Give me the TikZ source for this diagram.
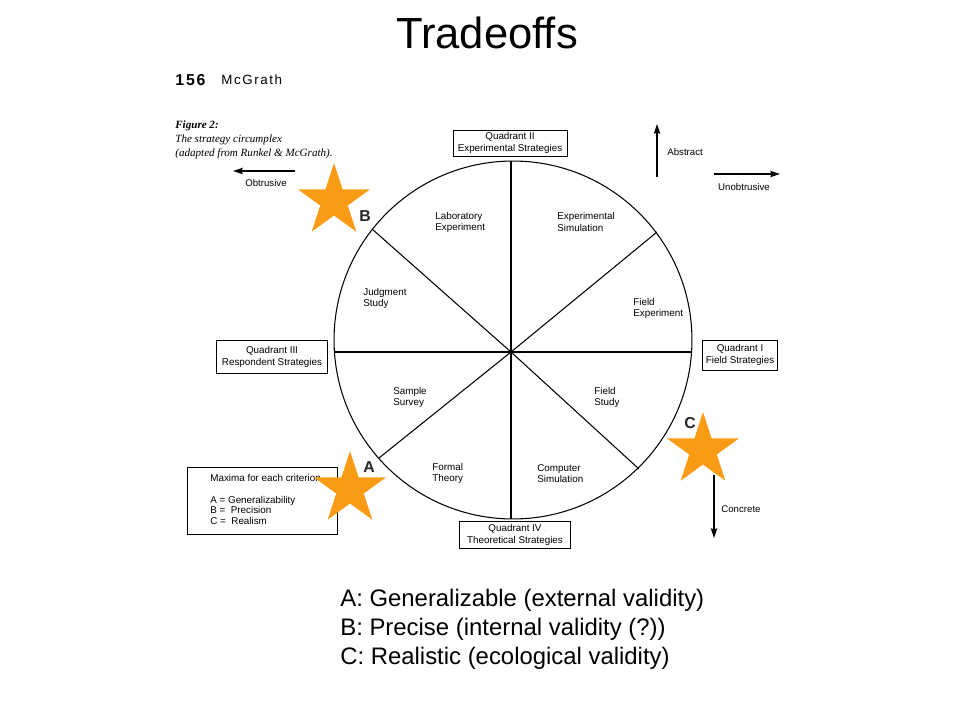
\documentclass[tikz,border=0pt]{standalone}
\usepackage{fontspec}
\setmainfont{Liberation Sans}
\newfontfamily\capfont{Liberation Serif}
\newfontfamily\widefont[LetterSpace=12]{Liberation Sans}
\usepackage{xcolor}
\usepackage{tikz}
\usetikzlibrary{shapes,arrows,arrows.meta,positioning}
\definecolor{starorange}{RGB}{250,155,22}

\begin{document}
\begin{tikzpicture}[x=0.02cm, y=-0.02cm]
    \tikzstyle{sector} = [font=\fontsize{5.6}{6.3}\selectfont, align=left, anchor=west, inner sep=0]
    \tikzstyle{quad} = [draw=black, line width=0.5pt, font=\fontsize{5.6}{6.8}\selectfont, align=center, inner sep=0]
    \tikzstyle{side} = [font=\fontsize{5.5}{6.5}\selectfont, inner sep=0]
    \tikzstyle{starmark} = [star, star points=5, star point ratio=2.618, minimum size=1.52cm, inner sep=0, fill=starorange]
    \tikzstyle{letter} = [font=\fontsize{9}{9}\selectfont\bfseries, text=black!85, inner sep=0]
    \tikzstyle{arrow} = [-{Stealth[length=5.5pt,width=3.6pt,inset=0.6pt]}, line width=0.6pt]
    \useasboundingbox (0,0) rectangle (960,720);

    % title and page header
    \node [font=\fontsize{24.8}{27}\selectfont] (title) at (487,33) {Tradeoffs};
    \node [anchor=west, inner sep=0, font=\fontsize{9}{9}\selectfont\bfseries\widefont] (page) at (175,80) {156};
    \node [anchor=west, inner sep=0, font=\fontsize{7.6}{8}\selectfont\widefont] (author) at (221,80) {McGrath};
    \node [anchor=west, align=left, inner sep=0, font=\fontsize{6.3}{8}\selectfont\capfont\itshape] (caption) at (175,140)
        {\textbf{Figure 2:}\\The strategy circumplex\\(adapted from Runkel \& McGrath).};

    % circle and spokes
    \coordinate (hub) at (511,352);
    \coordinate (top) at (511,161);
    \coordinate (bottom) at (511,519);
    \coordinate (left) at (334,352);
    \coordinate (right) at (692,352);
    \coordinate (nw) at (372,229);
    \coordinate (ne) at (657,232);
    \coordinate (sw) at (379,458);
    \coordinate (se) at (639,469);
    \draw [line width=0.6pt] (513,340) circle [radius=3.58cm];
    \foreach \p in {top,bottom,left,right,nw,ne,sw,se}
        \draw [line width=0.6pt] (hub) -- (\p);

    % sectors
    \node [sector] (lab) at (435,222) {Laboratory\\Experiment};
    \node [sector] (expsim) at (557,222) {Experimental\\Simulation};
    \node [sector] (judg) at (363,298) {Judgment\\Study};
    \node [sector] (fexp) at (633,308) {Field\\Experiment};
    \node [sector] (survey) at (393,397) {Sample\\Survey};
    \node [sector] (fstudy) at (594,397) {Field\\Study};
    \node [sector] (formal) at (432,473) {Formal\\Theory};
    \node [sector] (compsim) at (537,474) {Computer\\Simulation};

    % quadrants
    \node [quad, minimum width=2.28cm, minimum height=0.52cm] (q2) at (510,143) {Quadrant II\\Experimental Strategies};
    \node [quad, minimum width=1.5cm, minimum height=0.6cm] (q1) at (740,355) {Quadrant I\\Field Strategies};
    \node [quad, minimum width=2.22cm, minimum height=0.66cm] (q3) at (272,357) {Quadrant III\\Respondent Strategies};
    \node [quad, minimum width=2.22cm, minimum height=0.54cm] (q4) at (515,535) {Quadrant IV\\Theoretical Strategies};

    % directions
    \coordinate (obtA) at (295,171);
    \coordinate (obtB) at (233,171);
    \coordinate (absA) at (657,177);
    \coordinate (absB) at (657,124);
    \coordinate (unoA) at (714,174);
    \coordinate (unoB) at (780,174);
    \coordinate (conA) at (714,475);
    \coordinate (conB) at (714,538);
    \draw [arrow] (obtA) -- (obtB);
    \draw [arrow] (absA) -- (absB);
    \draw [arrow] (unoA) -- (unoB);
    \draw [arrow] (conA) -- (conB);
    \node [side] (obt) at (266,183) {Obtrusive};
    \node [side, anchor=west] (abs) at (667,152) {Abstract};
    \node [side] (uno) at (744,187) {Unobtrusive};
    \node [side, anchor=west] (con) at (721,509) {Concrete};

    % legend
    \node [draw=black, line width=0.5pt, minimum width=3cm, minimum height=1.34cm, inner sep=0] (legend) at (262,501) {};
    \node [anchor=north west, align=left, inner sep=0, font=\fontsize{5.6}{6}\selectfont] (maxima) at (210,474)
        {Maxima for each criterion\\[6.5pt]A = Generalizability\\B = \ Precision\\C = \ Realism};

    % stars
    \node [starmark] (starB) at (334,201) {};
    \node [starmark] (starA) at (350,489) {};
    \node [starmark] (starC) at (703,450) {};
    \node [letter] (labB) at (365,216) {B};
    \node [letter] (labA) at (369,467) {A};
    \node [letter] (labC) at (690,423) {C};

    % notes
    \node [anchor=west, align=left, inner sep=0, font=\fontsize{13.6}{16.5}\selectfont] (notes) at (340,629)
        {A: Generalizable (external validity)\\B: Precise (internal validity (?))\\C: Realistic (ecological validity)};
\end{tikzpicture}
\end{document}
